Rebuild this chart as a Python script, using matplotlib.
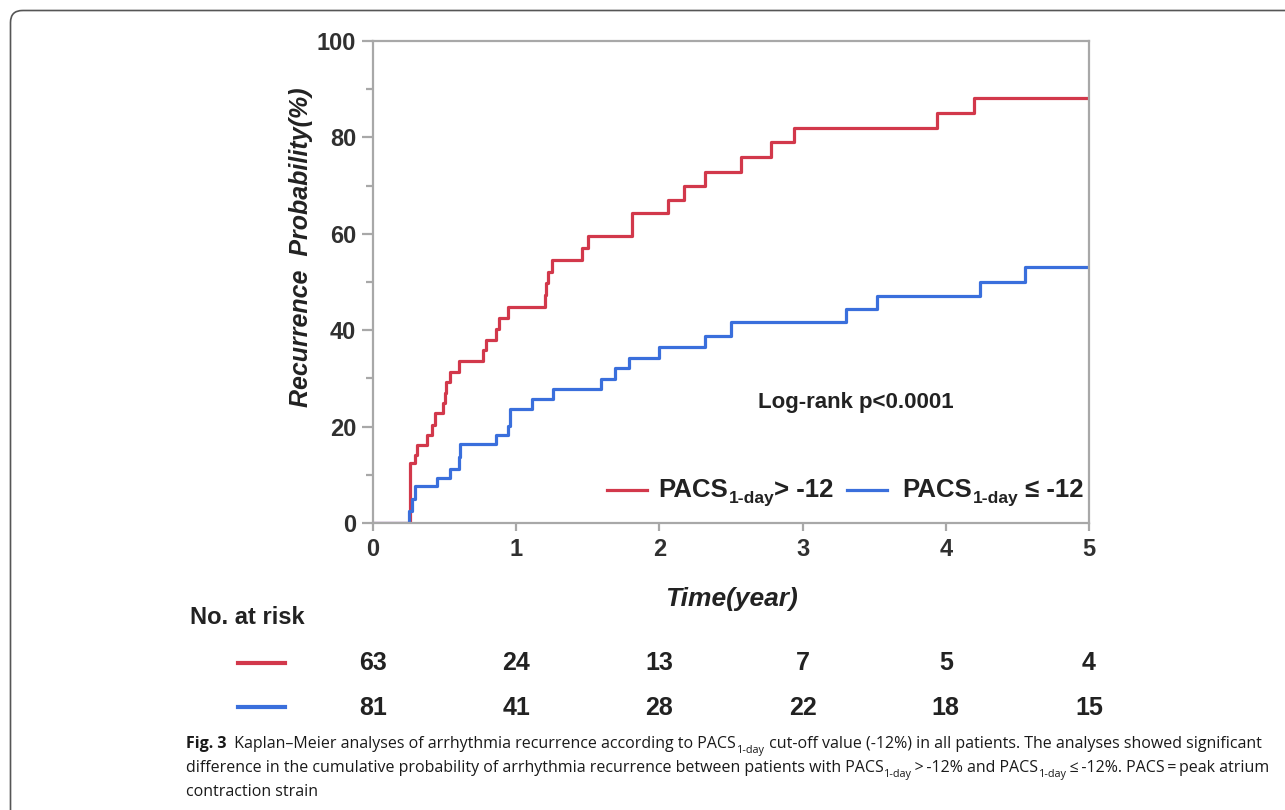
import matplotlib
matplotlib.use("Agg")
import matplotlib.pyplot as plt
from matplotlib.patches import FancyBboxPatch
from matplotlib.transforms import blended_transform_factory
from matplotlib.ticker import MultipleLocator

# Kaplan-Meier step data (time in years, cumulative %)
red_t = [0, 0.26, 0.29, 0.31, 0.38, 0.41, 0.43, 0.49, 0.50, 0.51, 0.54, 0.60,
         0.77, 0.79, 0.86, 0.88, 0.94, 1.20, 1.21, 1.22, 1.25, 1.46, 1.50, 1.81,
         2.06, 2.17, 2.32, 2.57, 2.78, 2.94, 3.94, 4.20, 5.0]
red_y = [0, 12.4, 14.1, 16.2, 18.3, 20.4, 22.8, 24.9, 27.0, 29.2, 31.3, 33.6,
         35.8, 38.0, 40.2, 42.5, 44.9, 47.4, 49.8, 52.0, 54.6, 57.0, 59.5, 64.3,
         67.1, 69.9, 72.8, 75.9, 79.0, 82.0, 85.1, 88.2, 88.2]

blue_t = [0, 0.25, 0.27, 0.29, 0.45, 0.54, 0.60, 0.61, 0.86, 0.94, 0.96, 1.11,
          1.26, 1.59, 1.69, 1.79, 2.00, 2.32, 2.50, 3.30, 3.52, 4.24, 4.55, 5.0]
blue_y = [0, 2.5, 5.0, 7.6, 9.4, 11.3, 13.7, 16.3, 18.2, 20.2, 23.6, 25.8,
          27.9, 29.9, 32.1, 34.3, 36.6, 38.9, 41.6, 44.3, 47.0, 50.1, 53.2, 53.2]

risk_times = [0, 1, 2, 3, 4, 5]
risk_red = [63, 24, 13, 7, 5, 4]
risk_blue = [81, 41, 28, 22, 18, 15]

RED = "#d2384b"
BLUE = "#3a6fdc"
GRAY = "#a8a8a8"
TXT = "#222222"
ARIAL = ["Liberation Sans", "DejaVu Sans"]
CAPF = ["Open Sans", "DejaVu Sans"]

fig = plt.figure(figsize=(12.85, 8.1), dpi=100)

ax = fig.add_axes([373 / 1285, 1 - 523 / 810, 716 / 1285, 482 / 810])
ax.step(red_t, red_y, where="post", color=RED, lw=2.3)
ax.step(blue_t, blue_y, where="post", color=BLUE, lw=2.3)
ax.set_xlim(0, 5)
ax.set_ylim(0, 100)
ax.xaxis.set_major_locator(MultipleLocator(1))
ax.yaxis.set_major_locator(MultipleLocator(20))
ax.yaxis.set_minor_locator(MultipleLocator(10))
for s in ax.spines.values():
    s.set_color(GRAY)
    s.set_linewidth(1.6)
ax.tick_params(which="both", color=GRAY, width=1.6, labelcolor="#303030")
ax.tick_params(axis="y", which="major", length=8, pad=4)
ax.tick_params(axis="y", which="minor", length=5)
ax.tick_params(axis="x", length=6, pad=5)
for lab in ax.get_xticklabels() + ax.get_yticklabels():
    lab.set_fontfamily(ARIAL)
    lab.set_fontweight("bold")
    lab.set_fontsize(17)

ax.set_xlabel("Time(year)", fontsize=19, fontweight="bold", style="italic",
              family=ARIAL, color=TXT, va="center")
ax.xaxis.set_label_coords(0.5, -0.158)
ax.set_ylabel("Recurrence  Probability(%)", fontsize=18, fontweight="bold",
              style="italic", family=ARIAL, color=TXT, va="center")
ax.yaxis.set_label_coords(-0.1, 0.573)

ax.text(0.675, 0.25, "Log-rank p<0.0001", transform=ax.transAxes,
        ha="center", va="center", fontsize=16, fontweight="bold",
        family=ARIAL, color=TXT)

# overlay in pixel coordinates for the frame, legend, risk table and caption
ov = fig.add_axes([0, 0, 1, 1])
ov.set_zorder(3)
ov.set_xlim(0, 1285)
ov.set_ylim(810, 0)
ov.axis("off")
ov.add_patch(FancyBboxPatch((10.5, 10.5), 1400, 900,
                            boxstyle="round,pad=0,rounding_size=12",
                            fc="none", ec="#555555", lw=1.2))


def rich(x, y, parts, size, family, color=TXT, weight="normal"):
    # chain text pieces left to right; ("...", "sub") pieces are subscripts
    first = ov.text(x, y, parts[0][0], fontsize=size, family=family,
                    color=color, va="baseline",
                    fontweight=parts[0][1] if parts[0][1] != "n" else weight)
    base = first
    prev = first
    for s, kind in parts[1:]:
        if kind == "sub":
            t = ov.annotate(s, xy=(1, 0), xycoords=(prev, base),
                            xytext=(0.5, -0.5), textcoords="offset points",
                            fontsize=size * 0.68, family=family, color=color,
                            fontweight=weight, va="baseline", ha="left")
        else:
            t = ov.annotate(s, xy=(1, 0), xycoords=(prev, base),
                            fontsize=size, family=family, color=color,
                            fontweight=kind if kind != "n" else weight,
                            va="bottom", ha="left")
        prev = t
    return prev


# legend drawn by hand so the subscript can be set
ov.plot([607, 647], [490, 490], color=RED, lw=2.3)
rich(658, 497, [("PACS", "n"), ("1-day", "sub"), ("> -12", "n")], 18.5, ARIAL,
     weight="bold")
ov.plot([847, 887], [490, 490], color=BLUE, lw=2.3)
rich(902, 497, [("PACS", "n"), ("1-day", "sub"), (" \u2264 -12", "n")], 18.5,
     ARIAL, weight="bold")

# number at risk table
ov.text(190, 618, "No. at risk", fontsize=17, fontweight="bold", family=ARIAL,
        color=TXT, va="center")
tr = blended_transform_factory(ax.transData, ov.transData)
ov.plot([238, 285], [663, 663], color=RED, lw=3)
ov.plot([238, 285], [707, 707], color=BLUE, lw=3)
for t, r, b in zip(risk_times, risk_red, risk_blue):
    ov.text(t, 663, str(r), transform=tr, ha="center", va="center",
            fontsize=18, fontweight="bold", family=ARIAL, color=TXT)
    ov.text(t, 708, str(b), transform=tr, ha="center", va="center",
            fontsize=18, fontweight="bold", family=ARIAL, color=TXT)

# caption
cs = 11.5
rich(186, 748, [("Fig. 3", "bold"),
                ("  Kaplan\u2013Meier analyses of arrhythmia recurrence according to PACS", "n"),
                ("1-day", "sub"),
                (" cut-off value (-12%) in all patients. The analyses showed significant", "n")],
     cs, CAPF, color="#1a1a1a")
rich(186, 772, [("difference in the cumulative probability of arrhythmia recurrence between patients with PACS", "n"),
                ("1-day", "sub"),
                ("\u2009>\u2009-12% and PACS", "n"),
                ("1-day", "sub"),
                ("\u2009\u2264\u2009-12%. PACS\u2009=\u2009peak atrium", "n")],
     cs, CAPF, color="#1a1a1a")
rich(186, 796, [("contraction strain", "n")], cs, CAPF, color="#1a1a1a")

fig.savefig("out.png", dpi=100)
